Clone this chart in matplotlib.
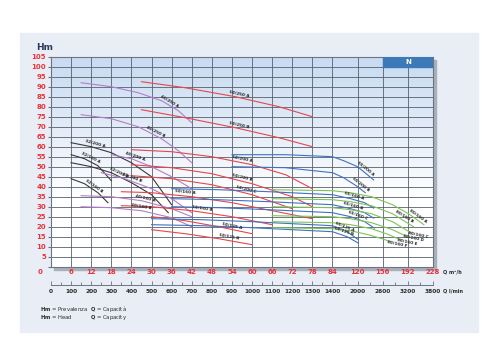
import numpy as np
import matplotlib.pyplot as plt
from matplotlib.patches import Rectangle
from matplotlib.colors import LinearSegmentedColormap

plt.rcParams['font.family'] = ['DejaVu Sans']

# flow ticks (m3/h) and the matching l/min labels
q_ticks = [0, 6, 12, 18, 24, 30, 36, 42, 48, 54, 60, 66, 72, 78, 84, 120, 156, 192, 228]
lmin_labels = ['0', '100', '200', '300', '400', '500', '600', '700', '800', '900',
               '1000', '1100', '1200', '1300', '1400', '2000', '2600', '3200', '3800']
h_ticks = list(range(0, 106, 5))

# the flow axis is stretched: equal columns up to 84, wider ones after
col_pos = list(range(15)) + [15.25, 16.5, 17.75, 19]

# pump curves: name -> (Q m3/h, H m)
curves_32 = {
    '32/200 A': ([6, 12, 18, 24, 30, 36], [62, 60, 57, 52, 45, 31]),
    '32/200 B': ([6, 12, 18, 24, 30, 35], [52, 50, 47, 42, 36, 27]),
    '32/160 A': ([6, 10, 14, 18], [56, 54, 50.5, 43]),
    '32/160 B': ([6, 10, 14, 17], [44, 41.5, 37, 32]),
}
curves_40 = {
    '40/250 A': ([9, 18, 26, 33, 38, 42], [92, 90, 87, 83, 78, 72]),
    '40/250 B': ([9, 18, 26, 33, 38, 42], [76, 74, 70, 64, 58, 52]),
    '40/200 A': ([18, 24, 30, 36, 42], [56, 54, 50, 45, 39]),
    '40/200 B': ([15, 22, 30, 36, 42], [47, 44, 39, 34, 27]),
    '40/160 A': ([9, 18, 27, 36, 42], [35.5, 35, 33, 29, 25]),
    '40/160 B': ([9, 18, 27, 36, 42], [30, 29.5, 28, 24.5, 20]),
}
curves_50 = {
    '50/250 A': ([27, 40, 55, 68, 78], [92.5, 89.5, 85, 80, 75]),
    '50/250 B': ([27, 40, 55, 68, 78], [78.5, 74.5, 69.5, 64.5, 60]),
    '50/200 A': ([24, 36, 48, 60, 70, 78], [58.5, 57.5, 55, 51, 46, 39]),
    '50/200 B': ([24, 36, 48, 60, 72, 78], [51, 49.5, 46.5, 41.5, 35, 30]),
    '50/200 C': ([24, 36, 48, 60, 72], [45.5, 44, 41, 36, 29]),
    '50/160 A': ([21, 30, 42, 54, 66, 78], [37.5, 37, 35, 32, 28, 24]),
    '50/160 B': ([21, 30, 42, 54, 66], [30.5, 30, 28, 25, 21]),
    '50/125 A': ([30, 40, 50, 60], [25, 23, 20, 16.5]),
    '50/125 B': ([30, 40, 50, 60], [18.5, 16.5, 14, 11]),
}
curves_65 = {
    '65/200 A': ([54, 70, 84, 100, 120, 143], [56, 56, 55, 53, 50, 43.4]),
    '65/200 B': ([54, 70, 84, 100, 120, 131], [50, 49.5, 47, 44.5, 40, 37]),
    '65/160 A': ([36, 50, 65, 84, 110, 130, 143], [39, 38.5, 37.5, 36, 34, 32, 29.3]),
    '65/160 B': ([36, 50, 65, 84, 110, 130, 143], [34, 33.5, 32.5, 31, 29, 27, 24.3]),
    '65/160 C': ([36, 50, 65, 84, 110, 130, 144], [30, 29.5, 28.5, 27, 25, 22.5, 19.3]),
    '65/125 A': ([30, 45, 60, 84, 105, 121], [24, 23.5, 22.5, 20.5, 17.5, 13.5]),
    '65/125 B': ([30, 45, 60, 84, 105, 121], [21, 20.5, 19.5, 17.5, 15, 11.8]),
}
curves_80 = {
    '80/160 A': ([66, 84, 110, 140, 170, 195, 215], [38.5, 38, 37, 35, 31, 26, 21]),
    '80/160 B': ([66, 84, 110, 140, 170, 200], [34, 33.5, 32.5, 30.5, 26.5, 20]),
    '80/160 C': ([66, 84, 110, 140, 170, 197], [30, 29.5, 28.5, 26.5, 22.5, 16.8]),
    '80/160 D': ([66, 84, 110, 140, 170, 191], [25.5, 25, 24, 22, 18.5, 15]),
    '80/160 E': ([66, 84, 110, 140, 165, 182], [22.5, 22, 21, 19, 16, 13.3]),
    '80/160 F': ([66, 84, 110, 135, 155, 167], [19.5, 19, 18, 16, 14, 12.5]),
}

# where along each curve (Q) the name is written
label_at = {
    '32/200 A': 13, '32/200 B': 20, '32/160 A': 11.5, '32/160 B': 12.5,
    '40/250 A': 35, '40/250 B': 31, '40/200 A': 25, '40/200 B': 24,
    '40/160 A': 28, '40/160 B': 27,
    '50/250 A': 56, '50/250 B': 56, '50/200 A': 57, '50/200 B': 57, '50/200 C': 58,
    '50/160 A': 40, '50/160 B': 45, '50/125 A': 54, '50/125 B': 53,
    '65/200 A': 130, '65/200 B': 122, '65/160 A': 114, '65/160 B': 113,
    '65/160 C': 120, '65/125 A': 100, '65/125 B': 99,
    '80/160 A': 205, '80/160 B': 185,
}
# these names sit just past the end of their curve instead
end_labels = ['80/160 C', '80/160 D', '80/160 E', '80/160 F']


def fwd(q):
    return np.interp(q, q_ticks, col_pos)


def inv(p):
    return np.interp(p, col_pos, q_ticks)


W, H = 500, 349
fig = plt.figure(figsize=(5.0, 3.49), dpi=100)

# light panel behind everything
fig.add_artist(Rectangle((20 / W, 1 - 332 / H), 458 / W, 299 / H, transform=fig.transFigure,
                         color='#e9eef6', zorder=-3))
# drop shadow of the chart frame
fig.add_artist(Rectangle((53.5 / W, 1 - 269.5 / H), 382 / W, 210 / H, transform=fig.transFigure,
                         color='#a7b0bb', zorder=-2))

ax = fig.add_axes([51 / W, 1 - 266.7 / H, 382 / W, 210 / H])
ax.set_xscale('function', functions=(fwd, inv))

bg = LinearSegmentedColormap.from_list('bg', ['#ffffff', '#ffffff', '#e3ecf8', '#c7dbf2'])
ax.imshow(np.linspace(0, 1, 256)[:, None], extent=(0, 1, 0, 1), transform=ax.transAxes,
          cmap=bg, aspect='auto', origin='lower', zorder=0)
ax.set_xlim(0, 228)
ax.set_ylim(0, 105)

ax.set_xticks(q_ticks)
ax.set_xticklabels([''] + [str(q) for q in q_ticks[1:]])
ax.set_yticks(h_ticks)
ax.set_yticklabels([''] + [str(h) for h in h_ticks[1:]])
ax.tick_params(axis='x', length=0, pad=2, labelsize=5, labelcolor='#e8343a')
ax.tick_params(axis='y', length=2, pad=1.5, labelsize=5, labelcolor='#e8343a', color='#6b7480')
for lab in ax.get_xticklabels() + ax.get_yticklabels():
    lab.set_fontweight('bold')
ax.grid(True, color='#55606d', lw=0.6)
ax.set_axisbelow(True)
for sp in ax.spines.values():
    sp.set_color('#6b7480')
    sp.set_linewidth(0.8)

# "N" header box
ax.add_patch(Rectangle((156, 100), 72, 5, color='#3b7ab6', zorder=3))
ax.text(192, 102.5, 'N', color='white', fontsize=5, fontweight='bold',
        ha='center', va='center', zorder=4)

families = [(curves_32, '#3a3a3a'), (curves_40, '#b57dc9'), (curves_50, '#e8464b'),
            (curves_65, '#3f72c2'), (curves_80, '#7dc458')]
for curves, col in families:
    for name, (q, h) in curves.items():
        ax.plot(q, h, color=col, lw=0.8, zorder=5)

lab_style = dict(fontsize=3.0, fontweight='bold', color='#262626', zorder=6)
for curves, col in families:
    for name, (q, h) in curves.items():
        if name in end_labels:
            ax.annotate(name, (q[-1], h[-1]), xytext=(5, 0), textcoords='offset points',
                        rotation=-12, rotation_mode='anchor', ha='center', va='top', **lab_style)
            continue
        at = min(max(label_at[name], q[0] + 0.5), q[-1])
        a0, a1 = max(at - 2, q[0]), min(at + 2, q[-1])
        p0 = ax.transData.transform((a0, np.interp(a0, q, h)))
        p1 = ax.transData.transform((a1, np.interp(a1, q, h)))
        ang = np.degrees(np.arctan2(p1[1] - p0[1], p1[0] - p0[0]))
        ax.annotate(name, (at, np.interp(at, q, h)), xytext=(0, 1.2), textcoords='offset points',
                    rotation=ang, rotation_mode='anchor', ha='center', va='bottom', **lab_style)

# second flow scale in l/min
ax2 = fig.add_axes([51 / W, 1 - 285 / H, 382 / W, 0.0001])
ax2.set_xscale('function', functions=(fwd, inv))
ax2.set_xlim(0, 228)
ax2.set_yticks([])
ax2.patch.set_visible(False)
for s in ('left', 'right', 'top'):
    ax2.spines[s].set_visible(False)
ax2.spines['bottom'].set_color('#6b7480')
ax2.spines['bottom'].set_linewidth(0.7)
ax2.set_xticks(q_ticks)
ax2.set_xticklabels(lmin_labels)
ax2.set_xticks([(a + b) / 2 for a, b in zip(q_ticks[:-1], q_ticks[1:])], minor=True)
ax2.tick_params(axis='x', which='major', direction='in', length=3, width=0.6, color='#6b7480',
                pad=3, labelsize=4.2, labelcolor='#2a2a2a')
ax2.tick_params(axis='x', which='minor', direction='in', length=2, width=0.6, color='#6b7480')
for lab in ax2.get_xticklabels():
    lab.set_fontweight('bold')

fig.text(45 / W, 1 - 47 / H, 'Hm', fontsize=6.5, fontweight='bold', color='#2a3a58',
         ha='center', va='center')
fig.text(40 / W, 1 - 272 / H, '0', fontsize=5, fontweight='bold', color='#e8343a',
         ha='center', va='center')
fig.text(443 / W, 1 - 272 / H, 'Q m³/h', fontsize=3.6, fontweight='bold', color='#2a2a2a',
         ha='left', va='center')
fig.text(443 / W, 1 - 291 / H, 'Q l/min', fontsize=3.6, fontweight='bold', color='#2a2a2a',
         ha='left', va='center')

fig.text(40 / W, 1 - 309 / H, r'$\mathbf{Hm}$ = Prevalenza', fontsize=3.8, color='#2a2a2a', va='center')
fig.text(40 / W, 1 - 317 / H, r'$\mathbf{Hm}$ = Head', fontsize=3.8, color='#2a2a2a', va='center')
fig.text(90 / W, 1 - 309 / H, r'$\mathbf{Q}$ = Capacità', fontsize=3.8, color='#2a2a2a', va='center')
fig.text(90 / W, 1 - 317 / H, r'$\mathbf{Q}$ = Capacity', fontsize=3.8, color='#2a2a2a', va='center')

fig.savefig('out.png', dpi=100)
